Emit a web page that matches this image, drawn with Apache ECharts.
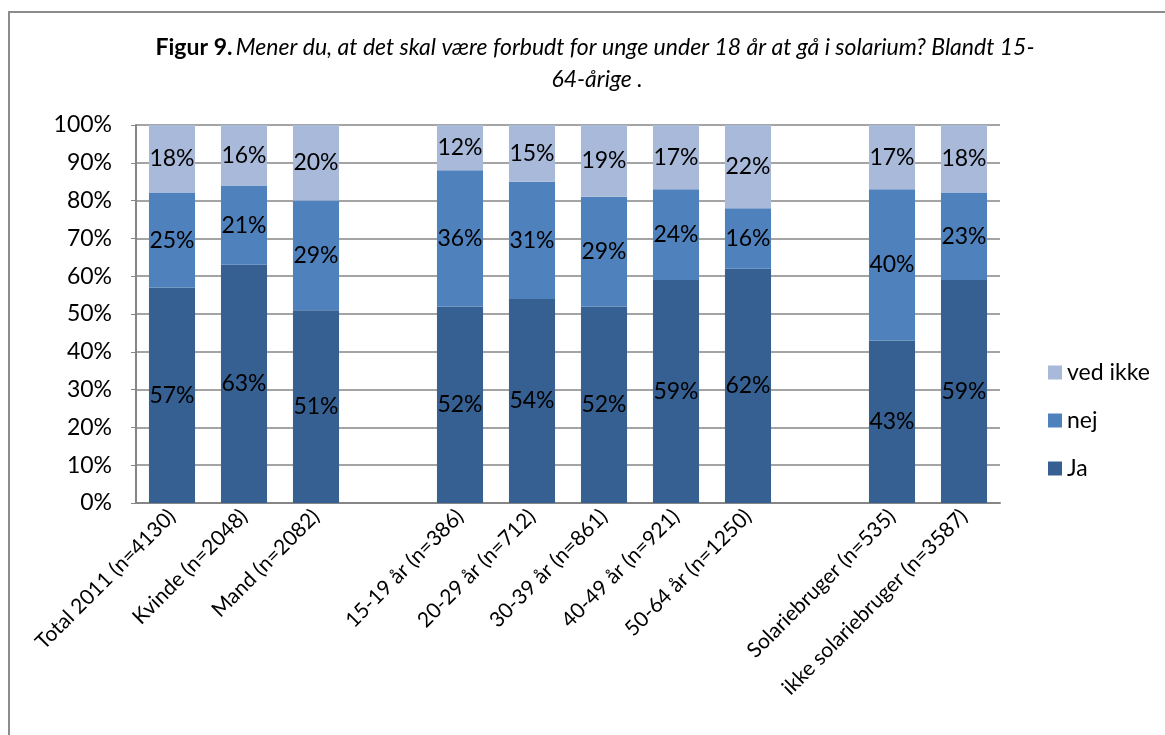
<!DOCTYPE html>
<html><head><meta charset="utf-8">
<script src="https://cdn.jsdelivr.net/npm/echarts@6/dist/echarts.min.js"></script>
<style>html,body{margin:0;padding:0;background:#fff}#c{width:1165px;height:735px}</style>
</head><body><div id="c"></div>
<script>
const categories = ['Total 2011 (n=4130)','Kvinde (n=2048)','Mand (n=2082)','','15-19 år (n=386)','20-29 år (n=712)','30-39 år (n=861)','40-49 år (n=921)','50-64 år (n=1250)','','Solariebruger (n=535)','ikke solariebruger (n=3587)'];
const ja = [57,63,51,null,52,54,52,59,62,null,43,59];
const nej = [25,21,29,null,36,31,29,24,16,null,40,23];
const vedIkke = [18,16,20,null,12,15,19,17,22,null,17,18];
const yTicks = [0,10,20,30,40,50,60,70,80,90,100];
const FONT = 'Lato, "Open Sans", sans-serif';
const chart = echarts.init(document.getElementById('c'));
const lbl = {show:true, position:'inside', color:'#000', fontSize:23, fontFamily:FONT, formatter: p => p.value==null ? '' : p.value + '%'};
function s(name, data, color){
  return {name, type:'bar', stack:'a', data, barCategoryGap:'36%', itemStyle:{color}, label:lbl, emphasis:{disabled:true}};
}
chart.setOption({
  animation:false,
  grid:{left:136, right:165, top:125, bottom:232},
  graphic:[
    {type:'rect', shape:{x:9, y:12, width:1300, height:900}, style:{fill:'none', stroke:'#8c8c8c', lineWidth:2}, silent:true},
    {type:'text', x:595, y:48, style:{text:'{b|Figur 9.} {i|Mener du, at det skal være forbudt for unge under 18 år at gå i solarium? Blandt 15-}', align:'center', verticalAlign:'middle',
      rich:{b:{fontWeight:'bold', fontSize:23, fontFamily:FONT, fill:'#000'}, i:{fontStyle:'italic', fontSize:23, fontFamily:FONT, fill:'#000'}}}},
    {type:'text', x:597, y:80, style:{text:'64-årige .', align:'center', verticalAlign:'middle', fontStyle:'italic', fontSize:23, fontFamily:FONT, fill:'#000'}}
  ],
  legend:{orient:'vertical', left:1043, top:356, itemGap:25, itemWidth:14, itemHeight:14, icon:'rect',
    data:['ved ikke','nej','Ja'], textStyle:{fontSize:23, fontFamily:FONT, color:'#000'}},
  xAxis:{type:'category', data:categories, axisTick:{show:false}, axisLine:{lineStyle:{color:'#868686', width:2}},
    axisLabel:{interval:0, rotate:45, fontSize:21, fontFamily:FONT, color:'#000', margin:10}},
  yAxis:{type:'value', min:0, max:100, interval:10, axisLine:{show:true, lineStyle:{color:'#868686', width:2}},
    axisTick:{show:true, length:5, lineStyle:{color:'#868686'}},
    splitLine:{lineStyle:{color:'#868686', width:1.5}},
    axisLabel:{fontSize:23, fontFamily:FONT, color:'#000', margin:24, formatter: v => yTicks.includes(v) ? v + '%' : ''}},
  series:[s('Ja', ja, '#366092'), s('nej', nej, '#4f81bd'), s('ved ikke', vedIkke, '#a8b9d9')]
});
</script></body></html>
